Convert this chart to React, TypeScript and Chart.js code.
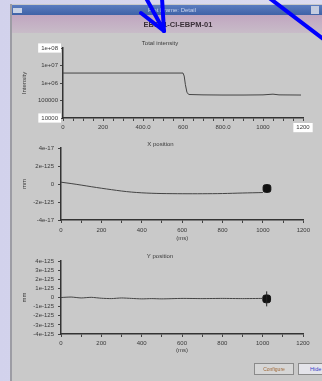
import React, { useEffect, useRef } from 'react';
import { Chart, registerables } from 'chart.js';

Chart.register(...registerables);

// ---------------- Data ----------------
const intensityTimes = [0, 100, 200, 300, 400, 500, 600, 606, 612, 620, 630, 700, 800, 900, 1000, 1050, 1080, 1190];
const intensityValues = [3.7e6, 3.7e6, 3.7e6, 3.7e6, 3.7e6, 3.7e6, 3.7e6, 2.5e6, 8e5, 2.8e5, 2.2e5, 2.1e5, 2.05e5, 2.05e5, 2.1e5, 2.3e5, 2.1e5, 2.05e5];
const intensityTickValues = [1e4, 1e5, 1e6, 1e7, 1e8];
const intensityTickLabels = ['10000', '100000', '1e+06', '1e+07', '1e+08'];
const intensityTimeLabels = ['0', '200', '400.0', '600', '800.0', '1000', '1200'];

const posTimes = [0, 50, 100, 150, 200, 250, 300, 350, 400, 450, 500, 600, 700, 800, 900, 1000];
const xPosValues = [0.2, 0.05, -0.12, -0.3, -0.47, -0.63, -0.78, -0.9, -0.98, -1.03, -1.06, -1.08, -1.08, -1.06, -1.0, -0.95];
const xPosMarkerTimes = [1020];
const xPosMarkerValues = [-0.5];
const xPosTickValues = [-4, -2, 0, 2, 4];
const xPosTickLabels = ['-4e-17', '-2e-125', '0', '2e-125', '4e-17'];

const yPosValues = [0.0, 0.05, -0.05, 0.02, -0.08, -0.12, -0.05, -0.1, -0.15, -0.12, -0.15, -0.1, -0.12, -0.1, -0.12, -0.1];
const yPosMarkerTimes = [1020];
const yPosMarkerValues = [-0.15];
const yPosTickValues = [-4, -3, -2, -1, 0, 1, 2, 3, 4];
const yPosTickLabels = ['-4e-125', '-3e-125', '-2e-125', '-1e-125', '0', '1e-125', '2e-125', '3e-125', '4e-125'];

const timeTickLabels = ['0', '200', '400', '600', '800', '1000', '1200'];

// ---------------- Styling helpers ----------------
const FONT = 'Liberation Sans, Arial, Helvetica, sans-serif';
const INK = '#3a3a3a';

const pts = (xs: number[], ys: number[]) => xs.map((x, i) => ({ x, y: ys[i] }));

function titleOpts(text: string, top: number, bottom: number) {
  return {
    display: true,
    text,
    color: INK,
    font: { family: FONT, size: 6, lineHeight: 1, weight: 'normal' as const },
    padding: { top, bottom },
  };
}

function xAxis(step: number, labels: string[], height: number, title: string | null, tickPad: number, boxLast: boolean) {
  return {
    type: 'linear' as const,
    min: 0,
    max: 1200,
    afterFit: (s: any) => { s.height = height; },
    border: { display: true, color: '#333', width: 1.5 },
    grid: { display: true, drawOnChartArea: false, drawTicks: true, tickLength: 3, color: '#444', lineWidth: 1 },
    ticks: {
      stepSize: step,
      autoSkip: false,
      maxRotation: 0,
      padding: tickPad,
      color: INK,
      font: { family: FONT, size: 6 },
      callback: (v: any) => (Number(v) % 200 === 0 ? labels[Math.round(Number(v) / 200)] : ''),
      showLabelBackdrop: (ctx: any) => boxLast && ctx.tick && ctx.tick.value === 1200,
      backdropColor: '#ffffff',
      backdropPadding: { x: 3, y: 1 },
    },
    title: title
      ? { display: true, text: title, color: INK, font: { family: FONT, size: 6 }, padding: { top: 0, bottom: 4 } }
      : { display: false },
  };
}

function yAxis(kind: 'linear' | 'logarithmic', values: number[], labels: string[], width: number, title: string, tickPad: number, boxEnds: boolean) {
  return {
    type: kind,
    min: values[0],
    max: values[values.length - 1],
    afterFit: (s: any) => { s.width = width; },
    afterBuildTicks: (s: any) => { s.ticks = values.map((v) => ({ value: v })); },
    border: { display: true, color: '#333', width: 1.5 },
    grid: { display: true, drawOnChartArea: false, drawTicks: true, tickLength: 3, color: '#444', lineWidth: 1 },
    ticks: {
      autoSkip: false,
      padding: tickPad,
      color: INK,
      font: { family: FONT, size: 6 },
      callback: (v: any) => {
        const i = values.findIndex((t) => Math.abs(t - Number(v)) <= Math.abs(t) * 1e-6 + 1e-9);
        return i >= 0 ? labels[i] : '';
      },
      showLabelBackdrop: (ctx: any) => boxEnds && (ctx.index === 0 || ctx.index === values.length - 1),
      backdropColor: '#ffffff',
      backdropPadding: { x: 3, y: 1 },
    },
    title: { display: true, text: title, color: INK, font: { family: FONT, size: 6 }, padding: { top: 4, bottom: 0 } },
  };
}

const lineStyle = { borderColor: '#444', borderWidth: 1, pointRadius: 0, fill: false };

function commonOptions(padRight: number) {
  return {
    animation: false as const,
    responsive: false,
    maintainAspectRatio: false,
    events: [],
    layout: { padding: { left: 5, right: padRight, top: 0, bottom: 0 } },
  };
}

// ---------------- Chart configs ----------------
function intensityConfig(): any {
  return {
    type: 'line',
    data: {
      datasets: [{ data: pts(intensityTimes, intensityValues), ...lineStyle, tension: 0 }],
    },
    options: {
      ...commonOptions(11),
      plugins: { legend: { display: false }, tooltip: { enabled: false }, title: titleOpts('Total intensity', 4, 2) },
      scales: {
        x: xAxis(50, intensityTimeLabels, 18, null, 3, true),
        y: yAxis('logarithmic', intensityTickValues, intensityTickLabels, 46, 'Intensity', 2, true),
      },
    },
  };
}

function xPosConfig(): any {
  return {
    type: 'line',
    data: {
      datasets: [
        { data: pts(posTimes, xPosValues), ...lineStyle, tension: 0.3 },
        { data: pts(xPosMarkerTimes, xPosMarkerValues), showLine: false, pointStyle: 'rectRounded', pointRadius: 4.5, backgroundColor: '#111', borderColor: '#111', borderWidth: 1 },
      ],
    },
    options: {
      ...commonOptions(10),
      plugins: { legend: { display: false }, tooltip: { enabled: false }, title: titleOpts('X position', 5, 1) },
      scales: {
        x: xAxis(100, timeTickLabels, 26, '(ms)', 4, false),
        y: yAxis('linear', xPosTickValues, xPosTickLabels, 44, 'mm', 4, false),
      },
    },
  };
}

function yPosConfig(): any {
  return {
    type: 'line',
    data: {
      datasets: [
        { data: pts(posTimes, yPosValues), ...lineStyle, tension: 0.2 },
        { data: pts(yPosMarkerTimes, yPosMarkerValues), showLine: false, pointStyle: 'line', rotation: 90, pointRadius: 7.5, borderColor: '#222', borderWidth: 1 },
        { data: pts(yPosMarkerTimes, yPosMarkerValues), showLine: false, pointStyle: 'rectRounded', pointRadius: 4.5, backgroundColor: '#111', borderColor: '#111', borderWidth: 1 },
      ],
    },
    options: {
      ...commonOptions(11),
      plugins: { legend: { display: false }, tooltip: { enabled: false }, title: titleOpts('Y position', 5, 2) },
      scales: {
        x: xAxis(100, timeTickLabels, 24, '(ms)', 3, false),
        y: yAxis('linear', yPosTickValues, yPosTickLabels, 44, 'mm', 4, false),
      },
    },
  };
}

function PlotCanvas(props: { left: number; top: number; width: number; height: number; build: () => any }) {
  const ref = useRef<HTMLCanvasElement | null>(null);
  useEffect(() => {
    if (!ref.current) return;
    const chart = new Chart(ref.current, props.build());
    return () => chart.destroy();
  }, []);
  return (
    <canvas
      ref={ref}
      width={props.width}
      height={props.height}
      style={{ position: 'absolute', left: props.left, top: props.top, width: props.width, height: props.height }}
    />
  );
}

export default function App() {
  return (
    <div
      style={{
        position: 'fixed',
        left: 0,
        top: 0,
        width: 322,
        height: 381,
        overflow: 'hidden',
        background: 'linear-gradient(90deg, #d2d2ec 0%, #dcdcf0 100%)',
        fontFamily: FONT,
      }}
    >
      <div
        style={{
          position: 'absolute',
          left: 10,
          top: 4,
          width: 314,
          height: 380,
          background: '#c9c9c9',
          borderLeft: '2px solid #9c9ca4',
          filter: 'blur(0.6px)',
        }}
      >
        {/* title bar */}
        <div style={{ position: 'absolute', left: 0, top: 1, width: 314, height: 10, background: 'linear-gradient(180deg, #5a7cc0 0%, #3f62a6 100%)' }}>
          <div style={{ position: 'absolute', left: 1, top: 3, width: 9, height: 5, background: '#c8d2e6' }} />
          <div style={{ position: 'absolute', left: 0, width: 320, top: 1, textAlign: 'center', fontSize: 6, lineHeight: '8px', color: '#c8d4ee' }}>
            Plot Frame: Detail
          </div>
          <div style={{ position: 'absolute', left: 299, top: 1, width: 8, height: 8, background: '#c4cce0' }} />
        </div>
        {/* header band */}
        <div style={{ position: 'absolute', left: 0, top: 11, width: 314, height: 18, background: 'linear-gradient(180deg, #c0a6c0 0%, #c8bcc8 100%)' }}>
          <div style={{ position: 'absolute', left: 0, width: 332, top: 5, textAlign: 'center', fontSize: 7.5, lineHeight: '10px', fontWeight: 'bold', color: '#3a3038' }}>
            EBS01-CI-EBPM-01
          </div>
        </div>

        <PlotCanvas left={0} top={32} width={302} height={100} build={intensityConfig} />
        <PlotCanvas left={0} top={132} width={302} height={110} build={xPosConfig} />
        <PlotCanvas left={0} top={244} width={302} height={110} build={yPosConfig} />

        {/* buttons */}
        <div style={{ position: 'absolute', left: 242, top: 359, width: 38, height: 10, background: '#d6d6d6', border: '1px solid #8a8a8a', fontSize: 5, lineHeight: '10px', textAlign: 'center', color: '#a06a3a', overflow: 'hidden', whiteSpace: 'nowrap' }}>
          Configure
        </div>
        <div style={{ position: 'absolute', left: 286, top: 359, width: 34, height: 10, background: '#e4e4ea', border: '1px solid #8a8a8a', fontSize: 5.5, lineHeight: '10px', textAlign: 'left', paddingLeft: 11, color: '#3840c8' }}>
          Hide
        </div>
      </div>

      {/* blue annotation arrows */}
      <svg width={322} height={381} style={{ position: 'absolute', left: 0, top: 0 }}>
        <g stroke="#0000ff" strokeWidth={4} strokeLinecap="round" fill="none">
          <line x1={146} y1={-2} x2={164} y2={31} />
          <line x1={141} y1={13} x2={164} y2={31} />
          <line x1={162} y1={-2} x2={164} y2={31} />
          <line x1={268} y1={-3} x2={326} y2={41} />
        </g>
      </svg>
    </div>
  );
}
